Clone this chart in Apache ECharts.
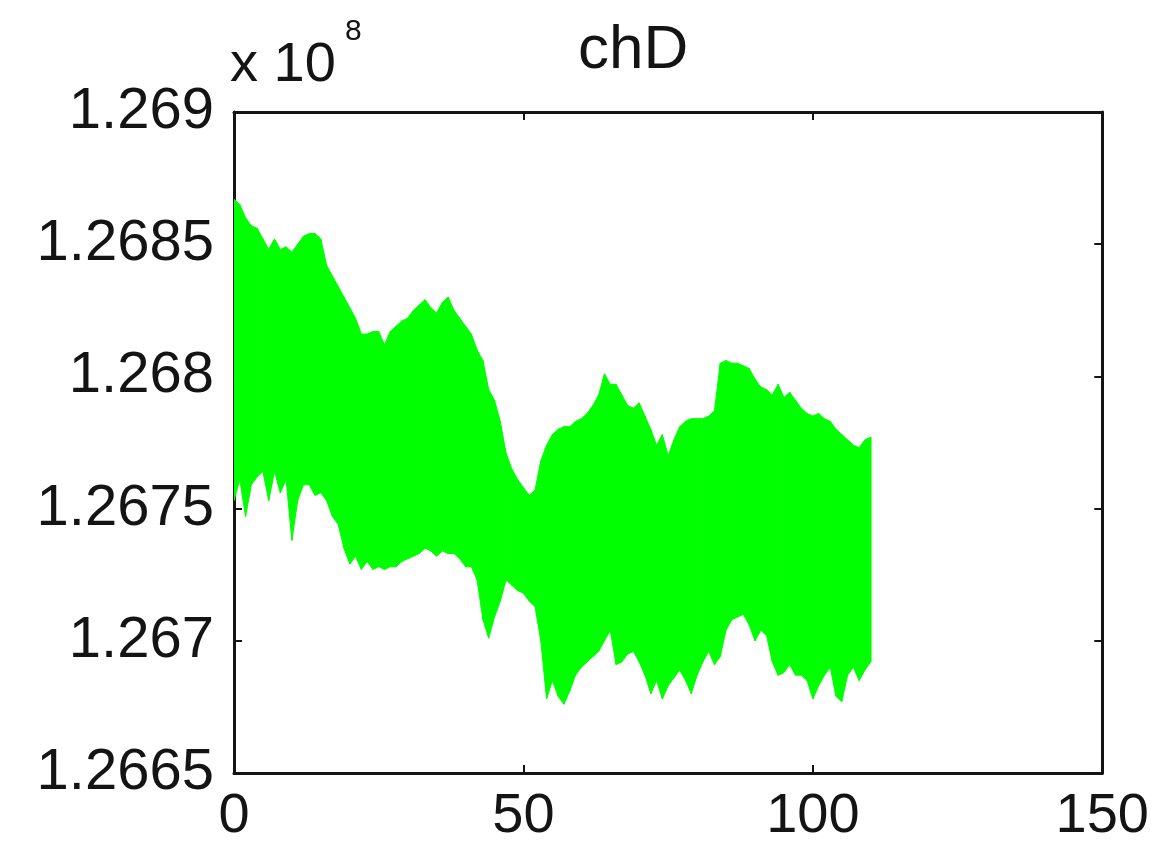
<!DOCTYPE html>
<html>
<head>
<meta charset="utf-8">
<title>chD</title>
<script src="https://cdn.jsdelivr.net/npm/echarts@6/dist/echarts.min.js"></script>
<style>
  html, body { margin: 0; padding: 0; background: #fff; }
  #chart { width: 1152px; height: 853px; }
</style>
</head>
<body>
<div id="chart"></div>
<script>
// values in units of 1e8, one sample per x step (x = 0 .. 110)
// upper and lower edge of the dense oscillating signal
const upper = [
  1.26867, 1.26865, 1.26860, 1.26857, 1.26856, 1.26852, 1.26848, 1.26852, 1.26848, 1.26849,
  1.26847, 1.26850, 1.26853, 1.26854, 1.26854, 1.26852, 1.26842, 1.26838, 1.26834, 1.26830,
  1.26826, 1.26822, 1.26816, 1.26816, 1.26817, 1.26817, 1.26812, 1.26817, 1.26819, 1.26821,
  1.26822, 1.26825, 1.26827, 1.26829, 1.26826, 1.26824, 1.26828, 1.26830, 1.26825, 1.26822,
  1.26819, 1.26816, 1.26810, 1.26806, 1.26795, 1.26791, 1.26783, 1.26771, 1.26765, 1.26761,
  1.26758, 1.26755, 1.26757, 1.26768, 1.26774, 1.26778, 1.26780, 1.26781, 1.26781, 1.26783,
  1.26784, 1.26786, 1.26789, 1.26793, 1.26801, 1.26797, 1.26797, 1.26793, 1.26789, 1.26788,
  1.26790, 1.26785, 1.26780, 1.26774, 1.26778, 1.26770, 1.26776, 1.26781, 1.26783, 1.26784,
  1.26784, 1.26784, 1.26785, 1.26787, 1.26805, 1.26806, 1.26805, 1.26805, 1.26804, 1.26803,
  1.26799, 1.26796, 1.26795, 1.26793, 1.26797, 1.26792, 1.26794, 1.26791, 1.26788, 1.26786,
  1.26785, 1.26786, 1.26784, 1.26783, 1.26780, 1.26778, 1.26776, 1.26774, 1.26773, 1.26776,
  1.26777
];
const lower = [
  1.26753, 1.26761, 1.26747, 1.26759, 1.26762, 1.26764, 1.26753, 1.26764, 1.26756, 1.26761,
  1.26738, 1.26753, 1.26759, 1.26759, 1.26755, 1.26756, 1.26753, 1.26747, 1.26744, 1.26735,
  1.26729, 1.26732, 1.26727, 1.26730, 1.26727, 1.26728, 1.26727, 1.26728, 1.26728, 1.26730,
  1.26731, 1.26732, 1.26733, 1.26735, 1.26734, 1.26732, 1.26734, 1.26733, 1.26733, 1.26731,
  1.26728, 1.26728, 1.26723, 1.26708, 1.26701, 1.26709, 1.26715, 1.26723, 1.26721, 1.26719,
  1.26718, 1.26715, 1.26713, 1.26700, 1.26678, 1.26685, 1.26679, 1.26676, 1.26681, 1.26687,
  1.26690, 1.26692, 1.26694, 1.26696, 1.26700, 1.26704, 1.26691, 1.26692, 1.26695, 1.26696,
  1.26692, 1.26687, 1.26680, 1.26685, 1.26678, 1.26683, 1.26686, 1.26689, 1.26685, 1.26680,
  1.26687, 1.26692, 1.26696, 1.26691, 1.26694, 1.26704, 1.26708, 1.26709, 1.26710, 1.26706,
  1.26700, 1.26704, 1.26702, 1.26692, 1.26687, 1.26688, 1.26691, 1.26687, 1.26687, 1.26685,
  1.26678, 1.26683, 1.26687, 1.26690, 1.26679, 1.26677, 1.26687, 1.26690, 1.26685, 1.26689,
  1.26692
];
const xTicks = [0, 50, 100, 150];
const yTicks = [1.2665, 1.267, 1.2675, 1.268, 1.2685, 1.269];

const chart = echarts.init(document.getElementById('chart'));

let bandData = [];
for (let i = 0; i < upper.length; i++) {
  bandData.push([i, upper[i], lower[i]]);
}

const ink = '#141414';
const green = '#00ff00';
const fontY = 'Liberation Sans, Arial, sans-serif';

const xCommon = {
  type: 'value',
  min: xTicks[0],
  max: xTicks[xTicks.length - 1],
  interval: 50,
  splitLine: { show: false },
  axisLine: { show: true, onZero: false, lineStyle: { color: ink, width: 3 } },
  axisTick: { show: true, inside: true, length: 8, lineStyle: { color: ink, width: 2 } },
};
const yCommon = {
  type: 'value',
  min: yTicks[0],
  max: yTicks[yTicks.length - 1],
  interval: 0.0005,
  splitLine: { show: false },
  axisLine: { show: true, onZero: false, lineStyle: { color: ink, width: 3 } },
  axisTick: { show: true, inside: true, length: 8, lineStyle: { color: ink, width: 2 } },
};

// one filled quad per step, between the upper and lower edge
function renderBand(params, api) {
  const i = api.value(0);
  const j = Math.min(i + 1, upper.length - 1);
  const a = api.coord([i, upper[i]]);
  const b = api.coord([j, upper[j]]);
  const c = api.coord([j, lower[j]]);
  const d = api.coord([i, lower[i]]);
  return {
    type: 'polygon',
    shape: { points: [a, b, c, d] },
    style: { fill: green, stroke: green, lineWidth: 1 },
  };
}

const option = {
  backgroundColor: '#ffffff',
  animation: false,
  grid: { left: 234, right: 47, top: 112, bottom: 80 },
  xAxis: [
    Object.assign({}, xCommon, {
      position: 'bottom',
      axisLabel: {
        show: true, margin: 16, color: ink, fontSize: 56, fontFamily: fontY,
        formatter: (v) => String(v),
      },
    }),
    Object.assign({}, xCommon, { position: 'top', axisLabel: { show: false } }),
  ],
  yAxis: [
    Object.assign({}, yCommon, {
      position: 'left',
      axisLabel: {
        show: true, margin: 20, color: ink, fontSize: 58, fontFamily: fontY,
        formatter: (v) => String(parseFloat(v.toFixed(4))),
      },
    }),
    Object.assign({}, yCommon, { position: 'right', axisLabel: { show: false } }),
  ],
  graphic: [
    {
      type: 'text', left: 578, top: 20,
      style: { text: 'chD', fontSize: 62, fontFamily: fontY, fill: ink },
    },
    {
      type: 'text', left: 230, top: 38,
      style: { text: 'x 10', fontSize: 56, fontFamily: fontY, fill: ink },
    },
    {
      type: 'text', left: 345, top: 17,
      style: { text: '8', fontSize: 30, fontFamily: fontY, fill: ink },
    },
  ],
  series: [
    {
      type: 'custom',
      name: 'chD',
      data: bandData,
      renderItem: renderBand,
      encode: { x: 0, y: [1, 2] },
      clip: true,
      silent: true,
      z: 1,
    },
  ],
};

chart.setOption(option);
</script>
</body>
</html>
